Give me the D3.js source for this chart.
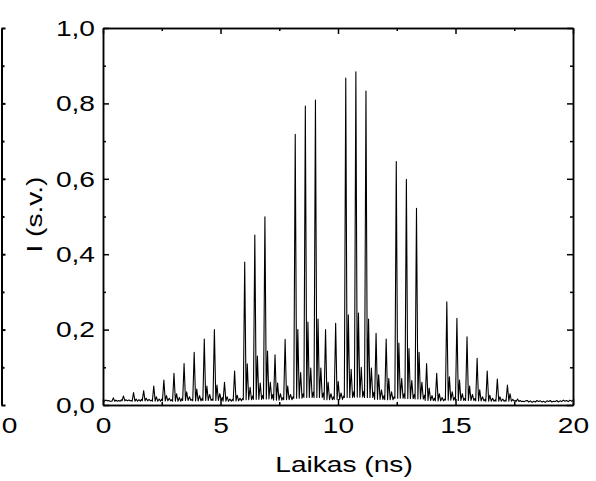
<!DOCTYPE html>
<html lang="lt">
<head>
    <meta charset="utf-8">
    <title>I (s.v.) vs Laikas</title>
    <script src="https://cdn.jsdelivr.net/npm/d3@7"></script>
    <style>
        body { margin: 0; background: #fff; }
        svg text { font-family: "Liberation Sans", Arial, sans-serif; fill: #000; }
        .axis path, .axis line { stroke: #000; }
    </style>
</head>
<body>
<div id="chart"></div>

<script type="text/javascript">
    // pulse train (time in ns, intensity in a.u.)
    var peakTime = [0.44, 0.87, 1.30, 1.73, 2.16, 2.59, 3.02, 3.45, 3.88, 4.31,
        4.74, 5.17, 5.60, 6.03, 6.46, 6.89, 7.32, 7.75, 8.18, 8.61,
        9.04, 9.47, 9.90, 10.33, 10.76, 11.19, 11.62, 12.05, 12.48, 12.91,
        13.34, 13.77, 14.20, 14.63, 15.06, 15.49, 15.92, 16.35, 16.78, 17.21, 17.64];
    // main spike of each pulse
    var peakMain = [0.019, 0.024, 0.033, 0.038, 0.050, 0.066, 0.084, 0.110, 0.140, 0.175,
        0.200, 0.060, 0.090, 0.379, 0.451, 0.499, 0.133, 0.174, 0.718, 0.793,
        0.809, 0.200, 0.217, 0.867, 0.884, 0.833, 0.190, 0.175, 0.646, 0.599,
        0.522, 0.110, 0.084, 0.274, 0.230, 0.181, 0.124, 0.090, 0.069, 0.053, 0.016];
    // first echo right after the spike
    var peakEcho = [0.013, 0.014, 0.016, 0.018, 0.022, 0.025, 0.030, 0.035, 0.042, 0.050,
        0.053, 0.022, 0.026, 0.109, 0.130, 0.143, 0.058, 0.050, 0.200, 0.220,
        0.228, 0.060, 0.062, 0.239, 0.244, 0.228, 0.080, 0.070, 0.164, 0.150,
        0.140, 0.045, 0.030, 0.075, 0.066, 0.050, 0.040, 0.026, 0.022, 0.030, 0.012];
    // second, weaker echo
    var peakEcho2 = [0.012, 0.013, 0.014, 0.015, 0.016, 0.018, 0.020, 0.022, 0.025, 0.028,
        0.030, 0.016, 0.018, 0.047, 0.058, 0.060, 0.030, 0.028, 0.086, 0.098,
        0.098, 0.030, 0.032, 0.095, 0.100, 0.098, 0.040, 0.035, 0.070, 0.065,
        0.060, 0.025, 0.020, 0.035, 0.030, 0.028, 0.022, 0.018, 0.016, 0.015, 0.010];
    // floor level between spikes
    var floorLevel = [0.010, 0.011, 0.010, 0.011, 0.010, 0.011, 0.010, 0.012, 0.011, 0.012,
        0.012, 0.010, 0.011, 0.014, 0.015, 0.016, 0.013, 0.014, 0.018, 0.020,
        0.020, 0.014, 0.015, 0.020, 0.021, 0.020, 0.015, 0.014, 0.018, 0.017,
        0.016, 0.012, 0.011, 0.013, 0.012, 0.012, 0.011, 0.010, 0.010, 0.010, 0.009];
    // small wiggle in the gap before the next pulse
    var gapLevel = [0.014, 0.012, 0.015, 0.013, 0.016, 0.014, 0.017, 0.015, 0.018, 0.016,
        0.020, 0.015, 0.017, 0.024, 0.026, 0.028, 0.020, 0.022, 0.030, 0.034,
        0.032, 0.022, 0.024, 0.035, 0.036, 0.034, 0.025, 0.022, 0.030, 0.028,
        0.026, 0.018, 0.016, 0.020, 0.018, 0.017, 0.015, 0.014, 0.013, 0.012, 0.011];

    // flat noise before the first pulse and after the last one
    var headTime = [0.00, 0.06, 0.12, 0.18, 0.24, 0.30];
    var headNoise = [0.012, 0.010, 0.013, 0.011, 0.012, 0.010];
    var tailTime = [18.05, 18.12, 18.19, 18.26, 18.33, 18.40, 18.47, 18.54, 18.61, 18.68,
        18.75, 18.82, 18.89, 18.96, 19.03, 19.10, 19.17, 19.24, 19.31, 19.38,
        19.45, 19.52, 19.59, 19.66, 19.73, 19.80, 19.87, 19.94, 20.00];
    var tailNoise = [0.012, 0.008, 0.011, 0.007, 0.010, 0.008, 0.012, 0.009, 0.011, 0.008,
        0.010, 0.007, 0.011, 0.009, 0.012, 0.008, 0.010, 0.009, 0.012, 0.008,
        0.011, 0.009, 0.013, 0.010, 0.012, 0.009, 0.013, 0.010, 0.012];

    var xTicks = [0, 5, 10, 15, 20];
    var xMinor = [2.5, 7.5, 12.5, 17.5];
    var yTicks = [0, 0.2, 0.4, 0.6, 0.8, 1.0];
    var yMinor = [0.1, 0.3, 0.5, 0.7, 0.9];

    var W = 596, H = 481;
    var margin = {left: 103, top: 28, right: 23, bottom: 76};
    var w = W - margin.left - margin.right;
    var h = H - margin.top - margin.bottom;
    var stretch = "scale(1.25,1)";   // glyphs in the picture are wider than Arial

    // assemble the trace
    var trace = [];
    headTime.forEach(function (t, i) { trace.push([t, headNoise[i]]); });
    peakTime.forEach(function (t, k) {
        trace.push([t - 0.06, floorLevel[k]]);
        trace.push([t, peakMain[k]]);
        trace.push([t + 0.06, floorLevel[k]]);
        trace.push([t + 0.11, peakEcho[k]]);
        trace.push([t + 0.17, floorLevel[k]]);
        trace.push([t + 0.23, peakEcho2[k]]);
        trace.push([t + 0.29, floorLevel[k]]);
        trace.push([t + 0.34, gapLevel[k]]);
    });
    tailTime.forEach(function (t, i) { trace.push([t, tailNoise[i]]); });

    var svg = d3.select("#chart")
        .append("svg")
        .attr("width", W)
        .attr("height", H);

    var xScale = d3.scaleLinear().domain([0, 20]).range([0, w]);
    var yScale = d3.scaleLinear().domain([0, 1]).range([h, 0]);

    var comma = function (d) { return d3.format(".1f")(d).replace(".", ","); };

    // right edge of the neighbouring panel, cut off on the left
    var side = svg.append("g")
        .attr("class", "axis")
        .attr("transform", "translate(1.5," + margin.top + ")");
    side.call(d3.axisRight(yScale).tickValues(yTicks).tickSize(4).tickSizeOuter(0).tickFormat(""));
    side.append("g").attr("class", "axis")
        .call(d3.axisRight(yScale).tickValues(yMinor).tickSize(3).tickSizeOuter(0).tickFormat(""))
        .select(".domain").remove();
    side.selectAll("path, line").attr("stroke-width", 2);
    svg.append("text")
        .attr("transform", "translate(9.5," + (margin.top + h + 12) + ") " + stretch)
        .attr("dy", "0.71em")
        .attr("text-anchor", "middle")
        .style("font-size", "22.5px")
        .text("0");

    var g = svg.append("g").attr("transform", "translate(" + margin.left + "," + margin.top + ")");

    // curve
    var line = d3.line()
        .x(function (d) { return xScale(d[0]); })
        .y(function (d) { return yScale(d[1]); });

    g.append("path")
        .datum(trace)
        .attr("d", line)
        .attr("fill", "none")
        .attr("stroke", "#000")
        .attr("stroke-width", 1.1)
        .attr("stroke-linejoin", "round");

    // axes, ticks pointing inward
    var xAxis = g.append("g").attr("class", "axis")
        .attr("transform", "translate(0," + h + ")")
        .call(d3.axisBottom(xScale).tickValues(xTicks).tickSize(-6).tickSizeOuter(0).tickPadding(12));
    g.append("g").attr("class", "axis")
        .attr("transform", "translate(0," + h + ")")
        .call(d3.axisBottom(xScale).tickValues(xMinor).tickSize(-3).tickSizeOuter(0).tickFormat(""));
    g.append("g").attr("class", "axis")
        .call(d3.axisTop(xScale).tickValues(xTicks).tickSize(-6).tickSizeOuter(0).tickFormat(""));
    g.append("g").attr("class", "axis")
        .call(d3.axisTop(xScale).tickValues(xMinor).tickSize(-3).tickSizeOuter(0).tickFormat(""));

    var yAxis = g.append("g").attr("class", "axis")
        .call(d3.axisLeft(yScale).tickValues(yTicks).tickSize(-6).tickSizeOuter(0).tickPadding(6.4).tickFormat(comma));
    g.append("g").attr("class", "axis")
        .call(d3.axisLeft(yScale).tickValues(yMinor).tickSize(-3).tickSizeOuter(0).tickFormat(""));
    g.append("g").attr("class", "axis")
        .attr("transform", "translate(" + w + ",0)")
        .call(d3.axisRight(yScale).tickValues(yTicks).tickSize(-6).tickSizeOuter(0).tickFormat(""));
    g.append("g").attr("class", "axis")
        .attr("transform", "translate(" + w + ",0)")
        .call(d3.axisRight(yScale).tickValues(yMinor).tickSize(-3).tickSizeOuter(0).tickFormat(""));

    g.selectAll(".axis path, .axis line").attr("stroke-width", 1.5);

    [xAxis, yAxis].forEach(function (ax) {
        ax.selectAll("text")
            .attr("transform", stretch)
            .style("font-size", "22.5px")
            .attr("fill", "#000");
    });

    // axis titles
    svg.append("text")
        .attr("transform", "translate(344," + (H - 9) + ") " + stretch)
        .attr("text-anchor", "middle")
        .style("font-size", "22.5px")
        .text("Laikas (ns)");

    svg.append("text")
        .attr("transform", "translate(42," + (margin.top + h / 2 - 2) + ") rotate(-90) " + stretch)
        .attr("text-anchor", "middle")
        .style("font-size", "22.5px")
        .text("I (s.v.)");
</script>
</body>
</html>
